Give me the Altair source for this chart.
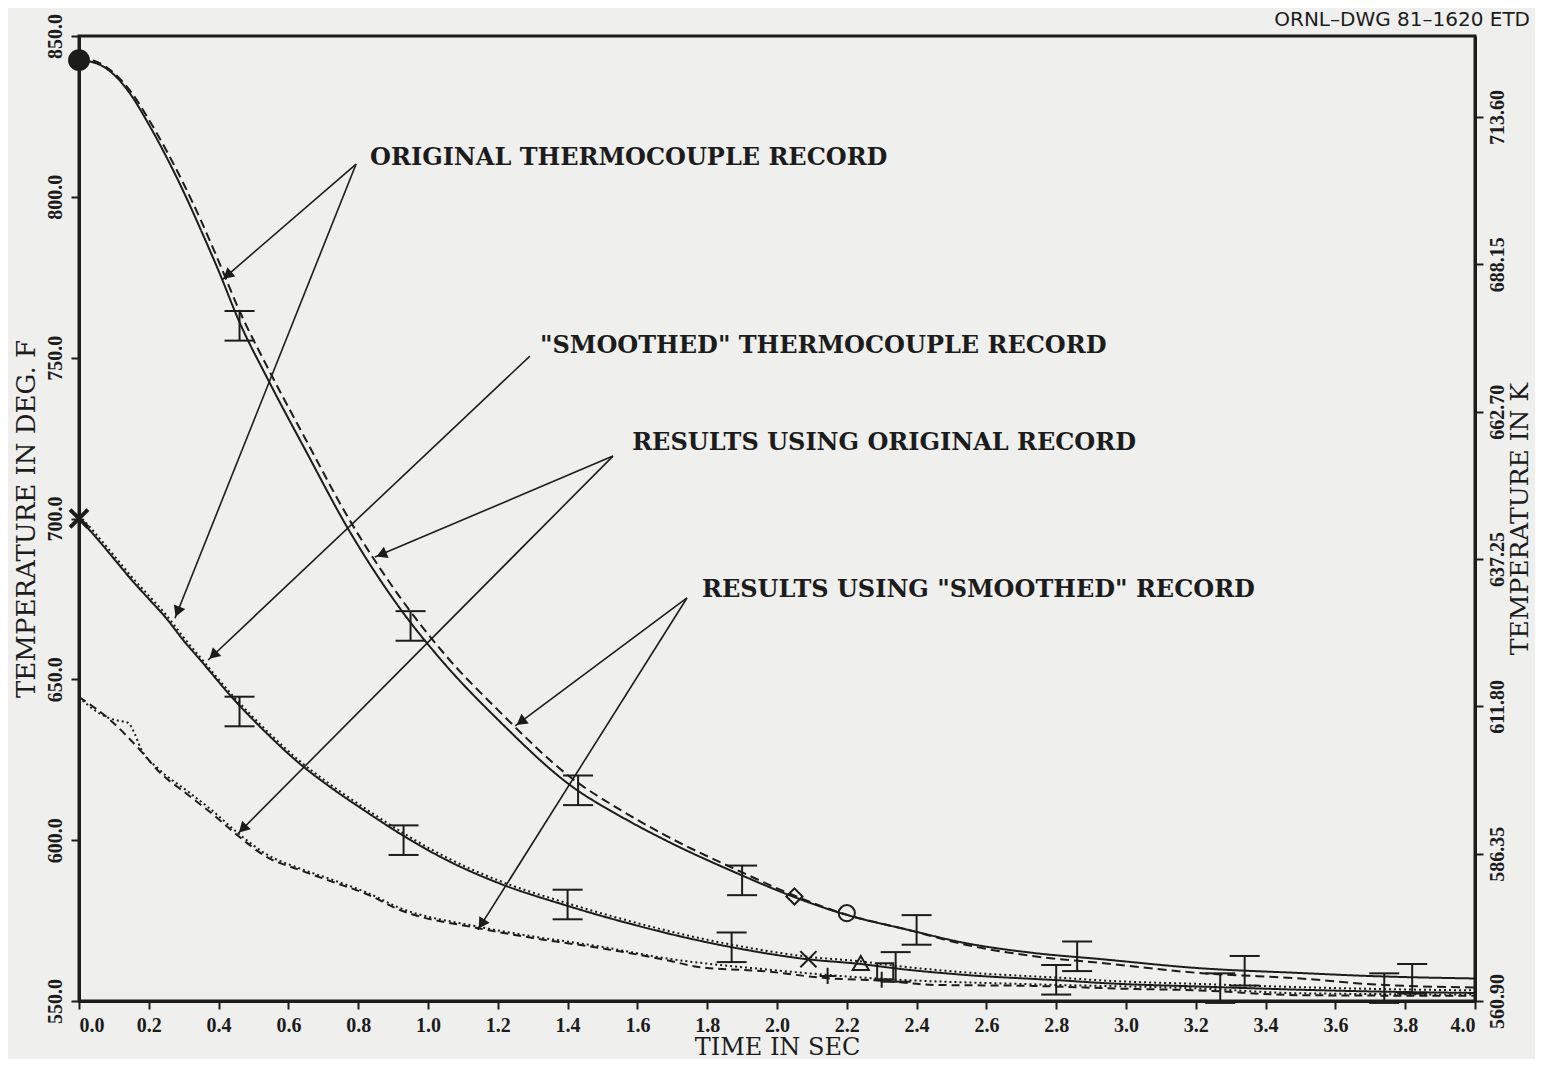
import math
import altair as alt
import pandas as pd

INK = "#1c1c1c"
BG = "#efefed"

# ---------------- data ----------------
# upper pair: original thermocouple record (solid) and "smoothed" record (dashed)
up_x = [0.0, 0.05, 0.10, 0.15, 0.20, 0.25, 0.30, 0.35, 0.40, 0.46, 0.54, 0.65, 0.77, 0.92,
        1.05, 1.20, 1.415, 1.55, 1.68, 1.89, 2.04, 2.18, 2.38, 2.54, 2.73, 2.93, 3.21, 3.50, 3.69, 4.0]
up_orig = [842.5, 841.5, 838.0, 831.5, 822.5, 812.5, 801.5, 789.5, 777.0, 761.0, 743.5, 721.0, 697.0, 672.0,
           654.5, 637.5, 616.5, 607.5, 600.0, 589.5, 582.7, 577.4, 572.0, 568.0, 565.0, 563.0, 560.2, 558.7, 557.8, 557.0]
up_smooth = [843.0, 842.0, 838.5, 832.5, 824.0, 814.5, 804.0, 792.5, 780.0, 764.5, 747.0, 724.5, 700.5, 675.5,
             657.5, 640.5, 619.0, 609.5, 601.5, 590.5, 583.2, 577.5, 572.0, 567.5, 564.0, 561.8, 558.7, 557.0, 555.3, 554.2]

# middle pair starting at 700 F
mid_x = [0.0, 0.05, 0.10, 0.15, 0.20, 0.25, 0.30, 0.35, 0.44, 0.54, 0.63, 0.72, 0.825, 0.92, 1.05,
         1.206, 1.387, 1.59, 1.78, 1.857, 2.086, 2.24, 2.35, 2.54, 2.83, 2.93, 3.21, 3.50, 3.69, 4.0]
mid_orig = [700.0, 694.0, 687.5, 681.0, 675.0, 669.0, 662.0, 655.7, 644.2, 633.0, 624.0, 616.5, 608.7, 602.0, 594.0,
            586.5, 580.0, 573.7, 568.7, 567.0, 563.0, 561.5, 560.0, 558.1, 556.3, 555.6, 554.5, 553.5, 553.0, 552.5]
mid_smooth = [701.0, 695.0, 688.5, 682.0, 676.0, 670.0, 663.0, 656.5, 645.0, 633.8, 624.8, 617.3, 609.5, 602.8, 594.8,
              587.3, 580.8, 574.5, 569.5, 567.8, 563.8, 562.3, 560.8, 558.9, 557.1, 556.4, 555.3, 554.3, 553.8, 553.3]

# lowest pair starting near 645 F
low_x = [0.0, 0.09, 0.175, 0.232, 0.31, 0.384, 0.453, 0.539, 0.633, 0.728, 0.825, 0.92, 1.14, 1.30,
         1.49, 1.68, 1.78, 1.97, 2.13, 2.30, 2.45, 2.73, 3.0, 3.21, 3.50, 4.0]
low_dash = [644.5, 637.3, 628.0, 621.0, 614.3, 608.0, 601.6, 594.7, 590.7, 587.0, 583.2, 578.3, 572.7, 569.6,
            566.5, 562.8, 560.5, 559.2, 557.2, 556.3, 555.0, 554.7, 553.8, 553.3, 551.8, 551.6]
lowdot_x = [0.0, 0.05, 0.09, 0.12, 0.14, 0.16, 0.175, 0.232, 0.31, 0.384, 0.453, 0.539, 0.633, 0.728,
            0.825, 0.92, 1.14, 1.30, 1.49, 1.68, 1.97, 2.30, 2.73, 3.21, 3.50, 4.0]
low_dot = [644.5, 640.0, 637.8, 637.0, 636.5, 633.0, 629.0, 621.8, 615.3, 609.0, 602.4, 595.5, 591.2, 587.6,
           583.7, 578.9, 573.2, 570.1, 567.0, 563.3, 559.8, 556.9, 555.2, 553.9, 552.4, 552.0]

# error bars (centre values), half height in deg F
err_up_x = [0.46, 0.95, 1.43, 1.90, 2.40, 2.86, 3.34, 3.82]
err_up_y = [759.9, 666.6, 615.5, 587.5, 572.1, 563.9, 559.4, 556.9]
err_mid_x = [0.46, 0.93, 1.40, 1.87, 2.34, 2.80, 3.27, 3.74]
err_mid_y = [640.0, 600.0, 580.0, 566.7, 560.6, 556.6, 554.0, 554.0]
err_half = 4.6

# symbols
open_kind = ["diamond", "circle", "x", "triangle", "plus", "square", "plus"]
open_x = [2.05, 2.20, 2.09, 2.24, 2.145, 2.31, 2.30]
open_y = [582.5, 577.3, 563.0, 561.8, 557.8, 559.2, 556.6]
filled_kind = ["circle", "x"]
filled_x = [0.0, 0.0]
filled_y = [842.5, 700.0]

# annotations
label_text = ["ORIGINAL THERMOCOUPLE RECORD", '"SMOOTHED" THERMOCOUPLE RECORD',
              "RESULTS USING ORIGINAL RECORD", 'RESULTS USING "SMOOTHED" RECORD']
label_x = [0.834, 1.321, 1.585, 1.785]
label_y = [812.0, 753.5, 723.6, 677.9]
arrow_apex_x = [0.794, 0.794, 1.292, 1.530, 1.530, 1.742, 1.742]
arrow_apex_y = [810.2, 810.2, 750.5, 719.4, 719.4, 675.3, 675.3]
arrow_tip_x = [0.41, 0.275, 0.37, 0.848, 0.455, 1.25, 1.143]
arrow_tip_y = [774.2, 669.0, 656.0, 688.0, 602.0, 635.5, 572.1]

x_ticks = [round(0.2 * i, 1) for i in range(21)]
f_ticks = [550, 600, 650, 700, 750, 800, 850]
k_ticks = [560.90, 586.35, 611.80, 637.25, 662.70, 688.15, 713.60]

# ---------------- layout ----------------
W, H = 1396, 965
X0, X1, Y0, Y1 = 0.0, 4.0, 550.0, 850.0
PX_PER_X = W / (X1 - X0)
PX_PER_Y = H / (Y1 - Y0)
K0 = min(k_ticks[0], (Y0 - 32) * 5 / 9 + 273.15)
K1 = (Y1 - 32) * 5 / 9 + 273.15

xscale = alt.Scale(domain=[X0, X1], nice=False, zero=False)
yscale = alt.Scale(domain=[Y0, Y1], nice=False, zero=False)
xaxis = alt.Axis(values=x_ticks, format=".1f", title="TIME IN SEC", labelAngle=0,
                 labelPadding=6, titlePadding=0, titleFontSize=24)
yaxis = alt.Axis(values=f_ticks, format=".1f", title="TEMPERATURE IN DEG. F", orient="left",
                 labelAngle=270, labelAlign="center", labelBaseline="bottom",
                 labelPadding=6, titlePadding=6)


def X(f):
    return alt.X(f, type="quantitative", scale=xscale, axis=xaxis)


def Y(f):
    return alt.Y(f, type="quantitative", scale=yscale, axis=yaxis)


# ---------------- tables ----------------
series_defs = [
    ("up_orig", up_x, up_orig), ("up_smooth", up_x, up_smooth),
    ("mid_orig", mid_x, mid_orig), ("mid_smooth", mid_x, mid_smooth),
    ("low_dash", low_x, low_dash), ("low_dot", lowdot_x, low_dot),
]
rows = []
for name, xs, ys in series_defs:
    for i, (a, b) in enumerate(zip(xs, ys)):
        rows.append({"series": name, "x": a, "y": b, "i": i})
lines_df = pd.DataFrame(rows)

err_df = pd.DataFrame({
    "x": err_up_x + err_mid_x,
    "yc": err_up_y + err_mid_y,
})
err_df["ylo"] = err_df["yc"] - err_half
err_df["yhi"] = err_df["yc"] + err_half

open_df = pd.DataFrame({"kind": open_kind, "x": open_x, "y": open_y})
filled_df = pd.DataFrame({"kind": filled_kind, "x": filled_x, "y": filled_y})
label_df = pd.DataFrame({"text": label_text, "x": label_x, "y": label_y})

arr_df = pd.DataFrame({"x": arrow_apex_x, "y": arrow_apex_y, "x2": arrow_tip_x, "y2": arrow_tip_y})
dxp = (arr_df["x2"] - arr_df["x"]) * PX_PER_X
dyp = -(arr_df["y2"] - arr_df["y"]) * PX_PER_Y
ang = [(math.degrees(math.atan2(a, -b)) + 360) % 360 for a, b in zip(dxp, dyp)]
norm = (dxp ** 2 + dyp ** 2) ** 0.5
back = 7.0
head_df = pd.DataFrame({
    "x": arr_df["x2"] - dxp / norm * back / PX_PER_X,
    "y": arr_df["y2"] + dyp / norm * back / PX_PER_Y,
    "angle": ang,
})

kdf = pd.DataFrame({"x": [0.0] * len(k_ticks), "k": k_ticks})

# ---------------- layers ----------------
names = [s[0] for s in series_defs]
lines = alt.Chart(lines_df).mark_line(color=INK, interpolate="monotone").encode(
    x=X("x"), y=Y("y"), detail="series:N", order="i:Q",
    strokeDash=alt.StrokeDash("series:N", legend=None, scale=alt.Scale(
        domain=names, range=[[1, 0], [9, 5], [1, 0], [2, 3], [8, 5], [2, 3]])),
    strokeWidth=alt.StrokeWidth("series:N", legend=None, scale=alt.Scale(
        domain=names, range=[2.0, 2.0, 2.6, 2.0, 1.8, 1.5])),
)

err_rule = alt.Chart(err_df).mark_rule(color=INK, strokeWidth=2).encode(
    x=X("x"), y=Y("ylo"), y2="yhi")
cap_lo = alt.Chart(err_df).mark_tick(color=INK, orient="horizontal", size=30, thickness=2, opacity=1).encode(
    x=X("x"), y=Y("ylo"))
cap_hi = alt.Chart(err_df).mark_tick(color=INK, orient="horizontal", size=30, thickness=2, opacity=1).encode(
    x=X("x"), y=Y("yhi"))

shape_scale = alt.Scale(
    domain=["diamond", "circle", "x", "triangle", "plus", "square"],
    range=["diamond", "circle", "M-1,-1L1,1M1,-1L-1,1", "triangle-up", "M-1,0L1,0M0,-1L0,1", "square"])
open_pts = alt.Chart(open_df).mark_point(color=INK, filled=False, strokeWidth=2, size=260, opacity=1).encode(
    x=X("x"), y=Y("y"), shape=alt.Shape("kind:N", scale=shape_scale, legend=None))
filled_pts = alt.Chart(filled_df).mark_point(color=INK, filled=True, stroke=INK, strokeWidth=4, size=320,
                                             opacity=1).encode(
    x=X("x"), y=Y("y"), shape=alt.Shape("kind:N", scale=shape_scale, legend=None))

arrows = alt.Chart(arr_df).mark_rule(color=INK, strokeWidth=1.6).encode(
    x=X("x"), y=Y("y"), x2="x2", y2="y2")
heads = alt.Chart(head_df).mark_point(shape="triangle-up", filled=True, color=INK, size=150, opacity=1).encode(
    x=X("x"), y=Y("y"), angle=alt.Angle("angle:Q", scale=None))

labels = alt.Chart(label_df).mark_text(
    align="left", baseline="middle", font="DejaVu Serif", fontSize=24, fontWeight="bold", color=INK).encode(
    x=X("x"), y=Y("y"), text="text:N")

left = alt.layer(lines, err_rule, cap_lo, cap_hi, open_pts, filled_pts, arrows, heads, labels)

right = alt.Chart(kdf).mark_point(opacity=0).encode(
    x=X("x"),
    y=alt.Y("k:Q", scale=alt.Scale(domain=[K0, K1], nice=False, zero=False),
            axis=alt.Axis(orient="right", values=k_ticks, format=".2f", title="TEMPERATURE IN K",
                          labelAngle=270, labelAlign="center", labelBaseline="top", labelPadding=4,
                          titleAngle=270, titleBaseline="top", titlePadding=0, titleFontSize=25)),
)

chart = alt.layer(left, right).resolve_scale(y="independent").properties(
    width=W, height=H,
    title=alt.TitleParams("ORNL\u2013DWG 81\u20131620  ETD", anchor="end", font="DejaVu Sans",
                          fontSize=20, fontWeight="normal", color=INK, dx=-2, offset=-16),
    autosize=alt.AutoSizeParams(type="none"),
    padding={"left": 71, "top": 28, "right": 60, "bottom": 58},
    background=BG,
).configure_axis(
    domainColor=INK, domainWidth=3, tickColor=INK, tickWidth=2, tickSize=8, grid=False,
    labelFont="Liberation Serif", labelFontWeight="bold", labelFontSize=20, labelColor=INK,
    titleFont="DejaVu Serif", titleFontSize=26, titleFontWeight="normal", titleColor=INK,
).configure_view(stroke=INK, strokeWidth=3)

chart.save("out.html", embed_options={"renderer": "svg", "actions": False})
